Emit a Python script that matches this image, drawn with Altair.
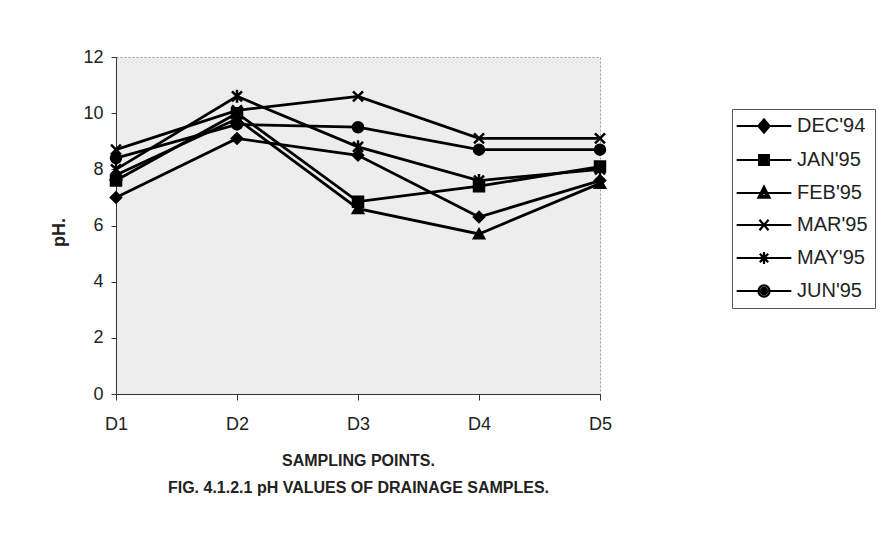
import altair as alt
import pandas as pd

points = ["D1", "D2", "D3", "D4", "D5"]
series = ["DEC'94", "JAN'95", "FEB'95", "MAR'95", "MAY'95", "JUN'95"]
dec94 = [7.0, 9.1, 8.5, 6.3, 7.6]
jan95 = [7.6, 10.0, 6.85, 7.4, 8.1]
feb95 = [7.8, 9.8, 6.6, 5.7, 7.5]
mar95 = [8.7, 10.1, 10.6, 9.1, 9.1]
may95 = [8.0, 10.6, 8.8, 7.6, 8.0]
jun95 = [8.4, 9.6, 9.5, 8.7, 8.7]
values = [dec94, jan95, feb95, mar95, may95, jun95]

rows = []
for s, vals in zip(series, values):
    for p, v in zip(points, vals):
        rows.append({"Point": p, "Series": s, "pH": v})
df = pd.DataFrame(rows)

plot_shapes = [
    "diamond",
    "square",
    "triangle-up",
    "M-1,-1L1,1M1,-1L-1,1",
    "M-1,-1L1,1M1,-1L-1,1M0,-1.3V1.3",
    "circle",
]
# legend symbols: unit = 7px; a line through the marker, markers filled by nested outlines
legend_shapes = [
    "M-3.9,0H3.9M0,-0.95L0.8,0L0,0.95L-0.8,0ZM0,-0.55L0.45,0L0,0.55L-0.45,0ZM0,-0.2L0.15,0L0,0.2L-0.15,0Z",
    "M-3.9,0H3.9M-0.7,-0.7H0.7V0.7H-0.7ZM-0.4,-0.4H0.4V0.4H-0.4ZM-0.12,-0.12H0.12V0.12H-0.12Z",
    "M-3.9,0H3.9M0,-0.9L0.8,0.65H-0.8ZM0,-0.35L0.4,0.42H-0.4Z",
    "M-3.9,0H3.9M-0.65,-0.75L0.65,0.75M0.65,-0.75L-0.65,0.75",
    "M-3.9,0H3.9M-0.6,-0.6L0.6,0.6M0.6,-0.6L-0.6,0.6M0,-0.85V0.85M-0.3,-0.3H0.3V0.3H-0.3Z",
    "M-3.9,0H3.9M0.8,0A0.8,0.8 0 1 1 -0.8,0A0.8,0.8 0 1 1 0.8,0ZM0.45,0A0.45,0.45 0 1 1 -0.45,0A0.45,0.45 0 1 1 0.45,0ZM0.15,0A0.15,0.15 0 1 1 -0.15,0A0.15,0.15 0 1 1 0.15,0Z",
]

FONT = "Liberation Sans"

x_enc = alt.X(
    "Point:N",
    sort=points,
    scale=alt.Scale(type="point", padding=0),
    axis=alt.Axis(
        title=["SAMPLING POINTS.", "FIG. 4.1.2.1 pH VALUES OF DRAINAGE SAMPLES."],
        titleFontWeight="bold",
        titleFontSize=16,
        titleFont=FONT,
        titleColor="#222",
        titleLineHeight=27,
        titleY=58,
        titleAlign="center",
        titleBaseline="top",
        labelAngle=0,
        labelFontSize=18,
        labelFont=FONT,
        labelColor="#222",
        labelPadding=15,
        tickSize=6,
        tickColor="#333",
        domainColor="#333",
        grid=False,
    ),
)
y_enc = alt.Y(
    "pH:Q",
    scale=alt.Scale(domain=[0, 12], nice=False),
    axis=alt.Axis(
        title="pH.",
        values=[0, 2, 4, 6, 8, 10, 12],
        titleFontWeight="bold",
        titleFontSize=18,
        titleFont=FONT,
        titleColor="#222",
        titleAngle=270,
        titleX=-57,
        titleY=175,
        titleAlign="center",
        titleBaseline="middle",
        labelFontSize=18,
        labelFont=FONT,
        labelColor="#222",
        labelPadding=8,
        tickSize=5,
        tickColor="#333",
        domainColor="#333",
        grid=False,
    ),
)

base = alt.Chart(df)

lines = base.mark_line(color="black", strokeWidth=2.8).encode(
    x=x_enc, y=y_enc, detail="Series:N"
)

pts = base.mark_point(
    filled=True, color="black", stroke="black", strokeWidth=2.5, size=100, opacity=1
).encode(
    x=alt.X("Point:N", sort=points),
    y="pH:Q",
    shape=alt.Shape(
        "Series:N",
        scale=alt.Scale(domain=series, range=plot_shapes),
        legend=None,
    ),
)

legend_layer = base.transform_filter("datum.pH < 0").mark_point(
    filled=False, color="black", strokeWidth=2.2, opacity=1
).encode(
    x=alt.X("Point:N", sort=points),
    y="pH:Q",
    shape=alt.Shape(
        "Series:N",
        scale=alt.Scale(domain=series, range=legend_shapes),
        legend=alt.Legend(
            title=None,
            orient="none",
            legendX=616,
            legendY=52,
            padding=7,
            strokeColor="#555",
            fillColor="white",
            symbolSize=196,
            symbolOffset=15,
            symbolStrokeColor="black",
            symbolStrokeWidth=2.2,
            symbolOpacity=1,
            labelFontSize=20,
            labelFont=FONT,
            labelColor="#222",
            labelOffset=23,
            rowPadding=12,
        ),
    ),
)

chart = (
    alt.layer(lines, pts, legend_layer)
    .resolve_scale(shape="independent")
    .properties(
        width=484,
        height=337,
        autosize=alt.AutoSizeParams(type="none"),
        padding={"left": 116, "top": 57, "right": 290, "bottom": 152},
        background="white",
    )
    .configure_view(fill="#ededed", stroke="#999", strokeDash=[2, 2])
)

chart.save("out.html", embed_options={"renderer": "svg", "actions": False})
